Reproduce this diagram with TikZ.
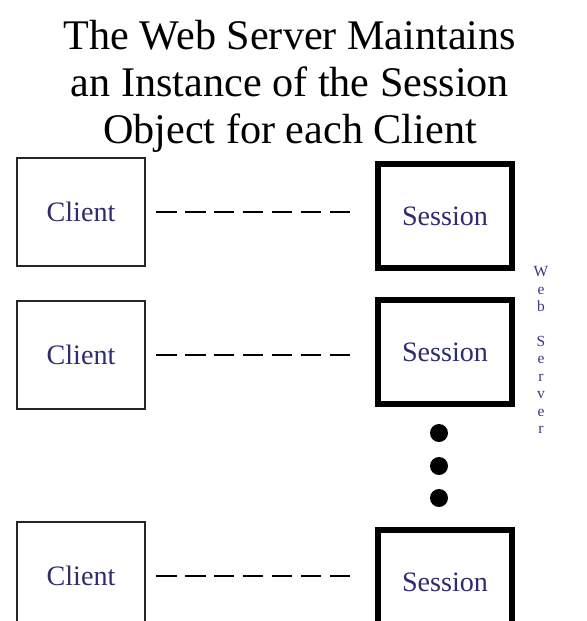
\documentclass[tikz,border=0pt]{standalone}
\usepackage{fontspec}
\setmainfont{Liberation Serif}
\usetikzlibrary{positioning,calc}
\definecolor{labelblue}{RGB}{44,44,110}
\definecolor{sidepurple}{RGB}{60,52,130}
\tikzset{
  clientbox/.style={draw=black!85,line width=1.4pt,minimum width=3.2cm,minimum height=2.7cm,text=labelblue,font=\fontsize{20}{22}\selectfont},
  sessionbox/.style={draw=black,line width=4pt,minimum width=3.35cm,minimum height=2.6cm,text=labelblue,font=\fontsize{20}{22}\selectfont},
  link/.style={line width=1.8pt,dash pattern=on 14.6pt off 6pt,shorten <=0.25cm,shorten >=0.5cm}
}
\begin{document}
\begin{tikzpicture}[x=0.025cm,y=-0.025cm]
\useasboundingbox (0,0) rectangle (587,621);
\clip (0,0) rectangle (587,621);
\node[align=center,font=\fontsize{30}{33.5}\selectfont] (title) at (290,86) {The Web Server Maintains\\an Instance of the Session\\Object for each Client};
% clients
\node[clientbox] (client1) at (81,212) {Client};
\node[clientbox] (client2) at (81,355) {Client};
\node[clientbox] (client3) at (81,576) {Client};
% sessions
\node[sessionbox] (session1) at (445,216) {Session};
\node[sessionbox] (session2) at (445,352) {Session};
\node[sessionbox] (session3) at (445,582) {Session};
\draw[link] (client1.east) -- (client1.east -| session1.west);
\draw[link] (client2.east) -- (client2.east -| session2.west);
\draw[link] (client3.east) -- (client3.east -| session3.west);
% more sessions
\foreach \y in {433,466,498}
  \fill (439,\y) circle (9);
\node[align=center,text=sidepurple,font=\fontsize{11}{12.4}\selectfont] (server) at (541,350) {W\\e\\b\\ \\S\\e\\r\\v\\e\\r};
\end{tikzpicture}
\end{document}
